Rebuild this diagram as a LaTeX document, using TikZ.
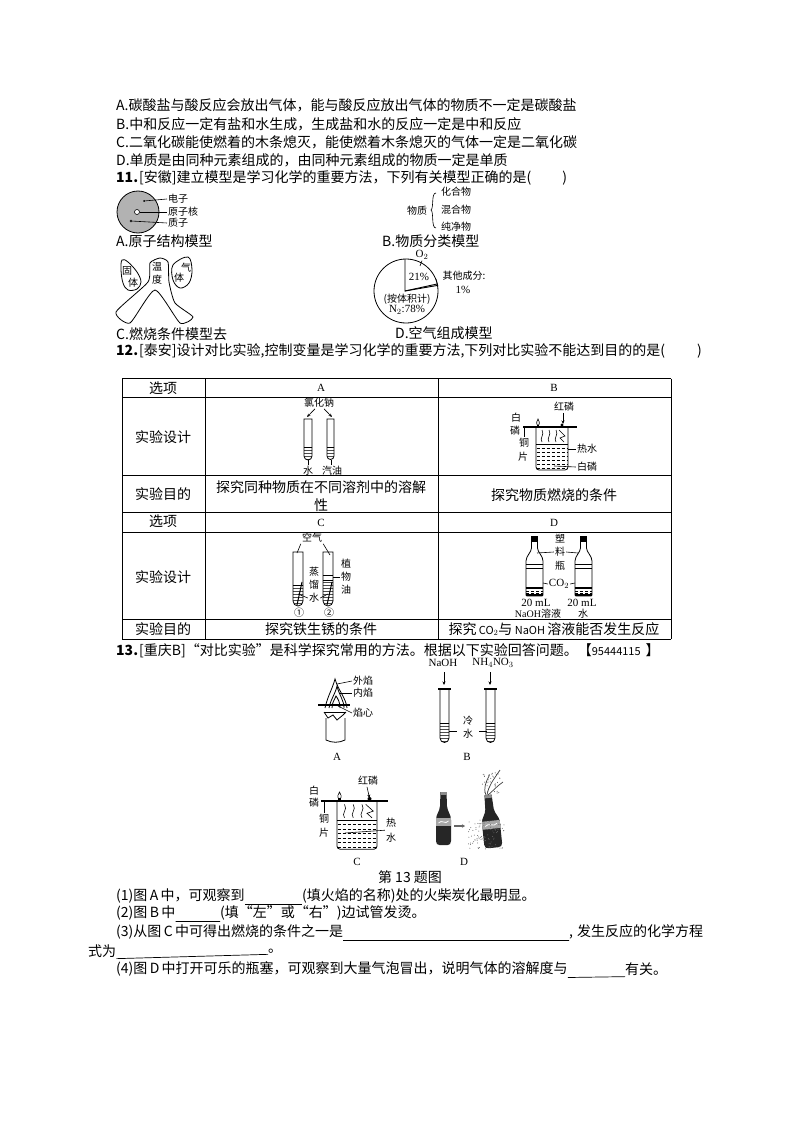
\documentclass[tikz,border=0pt]{standalone}
\usepackage{fontspec}
\setmainfont{Noto Sans CJK SC}
\newfontfamily\figserif{Liberation Serif}
\usetikzlibrary{arrows.meta, patterns}

\tikzset{
  bodytext/.style={anchor=west,inner sep=0pt,font=\fontsize{14}{16}\selectfont},
  celltext/.style={inner sep=0pt,align=center,font=\fontsize{14}{18}\selectfont},
  figlabel/.style={inner sep=1pt,font=\fontsize{10}{11}\selectfont},
  serlabel/.style={inner sep=1pt,font=\figserif\fontsize{11}{12}\selectfont},
  leader/.style={line width=.6pt},
  outline/.style={line width=.8pt},
  blank/.style={line width=.7pt},
  tiparrow/.style={line width=.6pt,-{Stealth[length=3.5pt,width=3pt]}},
}
\newcommand{\smalllatin}{\fontsize{11}{12}\selectfont}

% Test tube: left, right, top, bottom, water level
\newcommand{\testtube}[5]{
  \fill[pattern=horizontal lines,pattern color=black!70] (#1,#5) -- (#1,#4-4) arc[start angle=180,end angle=0,radius={(#2-#1)/2}] -- (#2,#5) -- cycle;
  \draw[outline] (#1,#3) -- (#1,#4-4) arc[start angle=180,end angle=0,radius={(#2-#1)/2}] -- (#2,#3) -- cycle;
  \draw[leader] (#1,#5) -- (#2,#5);
}
% Beaker with plate on top, local origin at top left of beaker
\newcommand{\beakerset}{
  \draw[outline,rounded corners=3pt] (0,0) -- (0,43) -- (32,43) -- (32,0);
  \draw[line width=1.2pt] (-13,0) -- (41,0);
  \foreach \y in {21,25,...,41} \draw[leader,densely dashed] (.5,\y) -- (31.5,\y);
  \draw[leader] (0,17) -- (32,17);
  \foreach \x in {6,13,20} \draw[leader] (\x,15) .. controls (\x-3,11) and (\x+3,8) .. (\x,3);
  \draw[leader] (23,3) -- (29,9) -- (24,11) -- (28,15);
  \fill (26,-2) circle (1.6);
  \draw[leader,fill=white] (2,-1) .. controls (-.5,-4) and (1,-6) .. (2,-8) .. controls (3,-6) and (4.5,-4) .. (2,-1);
  \fill (.7,-2.5) rectangle (3.3,0);
}
% Plastic bottle, local origin at middle of the cap top
\newcommand{\plasticbottle}{
  \fill (-3.5,0) rectangle (3.5,6);
  \draw[outline] (-3,6) -- (-3,12) .. controls (-3,16) and (-8.5,20) .. (-8.5,25) -- (-8.5,51) (3,6) -- (3,12) .. controls (3,16) and (8.5,20) .. (8.5,25) -- (8.5,51);
  \draw[outline,rounded corners=1pt] (-8.5,51) -- (-8.5,60) -- (8.5,60) -- (8.5,51);
  \draw[leader] (-8.5,28) -- (8.5,28) (-8.5,32) -- (8.5,32);
  \draw[line width=1.1pt] (-8.5,52) -- (8.5,52);
  \foreach \y in {55,57.5} \draw[line width=.8pt,densely dashed] (-8.5,\y) -- (8.5,\y);
  \fill (-8.5,58) rectangle (8.5,60);
}
% Cola bottle, local origin at middle of the neck top
\newcommand{\colabottle}{
  \fill[black!85] (-3,0) -- (3,0) -- (3.5,14) .. controls (4,20) and (7.5,22) .. (7.5,28) -- (7.5,49) .. controls (7.5,52) and (6,53) .. (4,53) -- (-4,53) .. controls (-6,53) and (-7.5,52) .. (-7.5,49) -- (-7.5,28) .. controls (-7.5,22) and (-4,20) .. (-3.5,14) -- cycle;
  \fill[black!45] (-3,0) rectangle (3,3);
  \fill[black!35] (-7.5,26) rectangle (7.5,34);
  \draw[white,line width=.8pt] (-5,31) .. controls (-2,27) and (2,33) .. (5,29);
}

\begin{document}
\begin{tikzpicture}[x=1pt,y=-1pt]
\useasboundingbox (0,0) rectangle (794,1123);
% Options of the question before 11
\node[bodytext] (optA) at (116,105) {A.碳酸盐与酸反应会放出气体，能与酸反应放出气体的物质不一定是碳酸盐};
\node[bodytext] (optB) at (116,124) {B.中和反应一定有盐和水生成，生成盐和水的反应一定是中和反应};
\node[bodytext] (optC) at (116,142) {C.二氧化碳能使燃着的木条熄灭，能使燃着木条熄灭的气体一定是二氧化碳};
\node[bodytext] (optD) at (116,160) {D.单质是由同种元素组成的，由同种元素组成的物质一定是单质};
\node[bodytext] (qEleven) at (116,178) {\textbf{11.}\hspace{1pt}[安徽]建立模型是学习化学的重要方法，下列有关模型正确的是(\hspace{31pt})};
% Model A, atom
\draw[fill=black!30,line width=.8pt] (138,212) circle (21);
\node[figlabel,anchor=west] (lblElectron) at (167,199) {电子};
\node[figlabel,anchor=west] (lblNucleus) at (167,212) {原子核};
\node[figlabel,anchor=west] (lblProton) at (167,223) {质子};
\draw[leader] (lblElectron.west) -- (144,201) coordinate (electron);
\draw[leader] (lblNucleus.west) -- (140,212) coordinate (nucleus);
\draw[leader] (lblProton.west) -- (131,221) coordinate (proton);
\fill (electron) circle (1);
\draw[fill=white,leader] (137,212) circle (2.5);
\draw[fill=white,leader] (proton) circle (1);
\node[bodytext] (capA) at (116,241) {A.原子结构模型};
% Model B, classes of matter
\node[figlabel] (lblMatter) at (417,211) {物质};
\node[figlabel] (lblCompound) at (456,192) {化合物};
\node[figlabel] (lblMixture) at (456,210) {混合物};
\node[figlabel] (lblPure) at (456,227) {纯净物};
\draw[leader] (436,193) .. controls (431,193) and (434,208) .. (431,210) .. controls (434,212) and (431,228) .. (436,228);
\node[bodytext] (capB) at (382,241) {B.物质分类模型};
% Model C, conditions of burning
\draw[outline] plot[smooth cycle,tension=.35] coordinates {(150,263) (160,258) (168,262) (169,282) (175,303) (193,317) (180,323) (155,290) (130,323) (116,312) (148,282)};
\draw[outline] plot[smooth cycle,tension=.6] coordinates {(122,260) (128,262) (137,272) (141,282) (137,289) (128,290) (123,283) (121,270)};
\draw[outline] plot[smooth cycle,tension=.6] coordinates {(173,265) (188,257) (192,270) (189,283) (180,288) (173,280)};
\node[figlabel] (lblSolidA) at (127,271) {固};
\node[figlabel] (lblSolidB) at (133,283) {体};
\node[figlabel] (lblTempA) at (157,267) {温};
\node[figlabel] (lblTempB) at (157,280) {度};
\node[figlabel] (lblGasA) at (186,268) {气};
\node[figlabel] (lblGasB) at (179,278) {体};
\node[bodytext] (capC) at (116,334) {C.燃烧条件模型去};
% Model D, air pie
\draw[outline] (406,291) circle (32);
\draw[line width=.9pt] (405,259) -- (405,291) -- (437,284);
\draw[line width=.9pt] (405,291) -- (437,285.5);
\node[serlabel] (lblOxygen) at (422,255) {O$_2$};
\draw[leader] (lblOxygen.south) -- (420,266) coordinate (oxygen);
\node[serlabel] (lblTwentyOne) at (419,277) {21\%};
\node[figlabel] (lblOther) at (464,276) {其他成分:};
\node[serlabel] (lblOne) at (463,290) {1\%};
\draw[leader] (436,279) -- (438,286) coordinate (other);
\node[figlabel] (lblVolume) at (407,299) {(按体积计)};
\node[serlabel] (lblNitrogen) at (407,310) {N$_2$:78\%};
\node[bodytext] (capD) at (395,333) {D.空气组成模型};
\node[bodytext] (qTwelve) at (116,351) {\textbf{12.}\hspace{1pt}[泰安]设计对比实验,控制变量是学习化学的重要方法,下列对比实验不能达到目的的是(\hspace{32pt})};
% Table grid
\foreach \y in {378.5,397.5,475.5,512.5,532.5,619.5,639} \draw[outline] (122,\y) -- (671,\y);
\foreach \x in {122,205.5,438,671} \draw[outline] (\x,378.5) -- (\x,639);
% Table texts
\node[celltext] (cellOptA) at (163,388) {选项};
\node[serlabel] (cellA) at (321,388) {A};
\node[serlabel] (cellB) at (554,388) {B};
\node[celltext] (cellDesignA) at (163,437) {实验设计};
\node[celltext] (cellAimA) at (163,494) {实验目的};
\node[celltext] (cellAimAB) at (321,496) {探究同种物质在不同溶剂中的溶解\\性};
\node[celltext] (cellAimBB) at (554,495) {探究物质燃烧的条件};
\node[celltext] (cellOptB) at (163,521) {选项};
\node[serlabel] (cellC) at (321,523) {C};
\node[serlabel] (cellD) at (554,523) {D};
\node[celltext] (cellDesignB) at (163,577) {实验设计};
\node[celltext] (cellAimB) at (163,629) {实验目的};
\node[celltext] (cellAimC) at (321,629) {探究铁生锈的条件};
\node[celltext] (cellAimD) at (554,629) {探究\,{\smalllatin CO$_2$}与\,{\smalllatin NaOH}\,溶液能否发生反应};
% Cell A, two tubes
\node[figlabel] (lblSalt) at (319,403) {氯化钠};
\draw[tiparrow] (lblSalt.south) ++(-4,0) -- (307,417);
\draw[tiparrow] (lblSalt.south) ++(5,0) -- (332,417);
\testtube{304}{312}{419}{460}{447}
\testtube{327}{334}{419}{460}{447}
\node[figlabel] (lblWaterA) at (308,471) {水};
\node[figlabel] (lblPetrol) at (332,471) {汽油};
\draw[leader] (lblWaterA.north) -- (308,460) coordinate (waterA);
\draw[leader] (331,465) -- (331,460) coordinate (petrol);
% Cell B, beaker
\begin{scope}[shift={(536,427)}]
\beakerset
\end{scope}
\node[figlabel] (lblRedB) at (564,407) {红磷};
\draw[tiparrow] (lblRedB.south) ++(-1,0) -- (563,424);
\node[figlabel] (lblWhiteBA) at (516,418) {白};
\node[figlabel] (lblWhiteBB) at (515,431) {磷};
\node[figlabel] (lblCopperBA) at (524,443) {铜};
\node[figlabel] (lblCopperBB) at (523,457) {片};
\draw[leader] (lblCopperBA.north) -- (524,427) coordinate (plateB);
\node[figlabel] (lblHotB) at (587,449) {热水};
\node[figlabel] (lblPhosB) at (587,467) {白磷};
\draw[leader] (lblHotB.west) -- (568,449) coordinate (hotB);
\draw[leader] (lblPhosB.west) -- (554,466) coordinate (phosB);
% Cell C, rust tubes
\node[figlabel] (lblAir) at (312,538) {空气};
\draw[leader] (lblAir.south west) -- (297,553) coordinate (airA);
\draw[leader] (lblAir.south east) -- (330,555) coordinate (airB);
\testtube{293}{303}{552}{605}{585}
\testtube{323}{333}{552}{605}{580}
\draw[leader] (323,575) -- (333,575);
\draw[line width=1pt] (302,582) -- (297,605);
\draw[line width=1pt] (332,582) -- (327,605);
\node[figlabel] (lblDistA) at (314,572) {蒸};
\node[figlabel] (lblDistB) at (314,585) {馏};
\node[figlabel] (lblDistC) at (314,598) {水};
\draw[leader] (lblDistC.west) -- (298,594) coordinate (distA);
\draw[leader] (lblDistC.east) -- (328,594) coordinate (distB);
\node[figlabel] (lblOilA) at (346,564) {植};
\node[figlabel] (lblOilB) at (346,577) {物};
\node[figlabel] (lblOilC) at (346,590) {油};
\draw[leader] (lblOilB.west) -- (333,577) coordinate (oil);
\node[figlabel] (lblOneC) at (299,613) {①};
\node[figlabel] (lblTwoC) at (329,613) {②};
% Cell D, plastic bottles
\begin{scope}[shift={(534.5,536)}]
\plasticbottle
\end{scope}
\begin{scope}[shift={(583.5,536)}]
\plasticbottle
\end{scope}
\node[figlabel] (lblBottleA) at (560,539) {塑};
\node[figlabel] (lblBottleB) at (560,552) {料};
\node[figlabel] (lblBottleC) at (560,566) {瓶};
\draw[leader] (lblBottleB.west) -- (537,553) coordinate (bottleA);
\draw[leader] (lblBottleB.east) -- (578,553) coordinate (bottleB);
\node[serlabel] (lblCarbon) at (559,584) {CO$_2$};
\draw[leader] (lblCarbon.west) -- (543,583) coordinate (carbonA);
\draw[leader] (lblCarbon.east) -- (575,583) coordinate (carbonB);
\node[serlabel] (lblTwentyA) at (536,603) {20 mL};
\node[serlabel] (lblTwentyB) at (582,603) {20 mL};
\node[figlabel] (lblNaoh) at (538,614) {{\figserif NaOH}溶液};
\node[figlabel] (lblWaterD) at (583,614) {水};
% Question 13
\node[bodytext] (qThirteen) at (116,651) {\textbf{13.}\hspace{1pt}[重庆B]“对比实验”是科学探究常用的方法。根据以下实验回答问题。【{\smalllatin 95444115}\hspace{5pt}】};
% Figure A, candle
\draw[outline] (326,718) -- (326,740) .. controls (332,743) and (339,743) .. (345,740) -- (345,718);
\draw[outline] (324,712) -- (328,718) -- (333,715) -- (337,720) -- (343,715) -- (346,712);
\draw[leader] (324,712) -- (346,712);
\draw[outline] (325,708) .. controls (328,695) and (332,690) .. (335,679) .. controls (338,690) and (346,698) .. (347,708);
\draw[outline] (329,708) .. controls (331,698) and (335,695) .. (337,686) .. controls (339,695) and (344,700) .. (344,708);
\draw[outline] (332,708) .. controls (332,702) and (335,699) .. (336,696) .. controls (338,699) and (340,702) .. (340,708);
\draw[line width=1.5pt] (318,705) -- (350,705);
\node[figlabel,anchor=west] (lblOuter) at (352,681) {外焰};
\node[figlabel,anchor=west] (lblInner) at (352,693) {内焰};
\node[figlabel,anchor=west] (lblCore) at (352,713) {焰心};
\draw[leader] (lblOuter.west) -- (337,684) coordinate (outer);
\draw[leader] (lblInner.west) -- (340,693) coordinate (inner);
\draw[leader] (lblCore.west) -- (338,706) coordinate (core);
\node[serlabel] (figA) at (337,757) {A};
% Figure B, cold water tubes
\node[serlabel] (lblNaohB) at (443,663) {NaOH};
\node[serlabel] (lblNitrate) at (493,663) {NH$_4$NO$_3$};
\draw[tiparrow] (444,672) coordinate (pourA) -- (444,685);
\draw[tiparrow] (490,672) coordinate (pourB) -- (490,685);
\testtube{440}{449}{689}{742}{723}
\testtube{486}{495}{689}{742}{723}
\draw[line width=1.2pt] (438,689) -- (451,689) (484,689) -- (497,689);
\node[figlabel] (lblColdA) at (468,721) {冷};
\node[figlabel] (lblColdB) at (468,734) {水};
\draw[leader] (lblColdB.west) ++(-5,-3) coordinate (coldA) -- (449,731);
\draw[leader] (lblColdB.east) ++(5,-3) coordinate (coldB) -- (487,731);
\node[serlabel] (figB) at (467,757) {B};
% Figure C, beaker
\begin{scope}[shift={(337,801)},xscale=1.25,yscale=1.12]
\beakerset
\end{scope}
\node[figlabel] (lblRedC) at (368,781) {红磷};
\draw[tiparrow] (lblRedC.south) ++(-1,0) -- (369.5,798);
\node[figlabel] (lblWhiteCA) at (314,791) {白};
\node[figlabel] (lblWhiteCB) at (314,803) {磷};
\node[figlabel] (lblCopperCA) at (324,819) {铜};
\node[figlabel] (lblCopperCB) at (324,833) {片};
\draw[leader] (lblCopperCA.north) -- (324,801) coordinate (plateC);
\node[figlabel] (lblHotCA) at (391,823) {热};
\node[figlabel] (lblHotCB) at (391,838) {水};
\draw[leader] (lblHotCB.north west) ++(0,-2) -- (345,833) coordinate (hotC);
\node[serlabel] (figC) at (357,862) {C};
% Figure D, cola bottles
\begin{scope}[shift={(443.5,792)}]
\colabottle
\end{scope}
\begin{scope}[shift={(488,795)},rotate=6,xscale=1.2]
\colabottle
\end{scope}
\draw[black!60,line width=1.1pt,-{Stealth[length=3pt,width=3.5pt]}] (454,826) coordinate (colaFrom) -- (465,826) coordinate (colaTo);
\draw[black!75,line width=.7pt] (487,795) .. controls (489,785) and (492,782) .. (500,770);
\draw[black!75,line width=.7pt] (486,795) .. controls (483,788) and (486,782) .. (489,776);
\draw[black!75,line width=.7pt] (488,795) .. controls (494,790) and (497,786) .. (503,782);
\pgfmathsetseed{13}
\foreach \i in {1,...,90} \fill[black!60] ({468+rnd*36},{820+rnd*29}) circle (.5);
\foreach \i in {1,...,35} \fill[black!70] ({480+rnd*20},{772+rnd*22}) circle (.5);
\node[serlabel] (figD) at (464,862) {D};
\node[celltext] (figTitle) at (410,877) {第 13 题图};
% Fill-in lines
\node[bodytext] (subOneA) at (116,896) {(1)图\,A\,中，可观察到};
\node[bodytext] (subOneB) at (302,896) {(填火焰的名称)处的火柴炭化最明显。};
\draw[blank] ([yshift=-1pt]subOneA.south east) -- ([yshift=-1pt]subOneB.south west);
\node[bodytext] (subTwoA) at (116,913) {(2)图\,B\,中};
\node[bodytext] (subTwoB) at (220,913) {(填“左”或“右”)边试管发烫。};
\draw[blank] ([yshift=-1pt]subTwoA.south east) -- ([yshift=-1pt]subTwoB.south west);
\node[bodytext] (subThreeA) at (116,932) {(3)从图\,C\,中可得出燃烧的条件之一是};
\node[bodytext] (subThreeB) at (569,932) {,\hspace{4pt}发生反应的化学方程};
\draw[blank] ([yshift=-1pt]subThreeA.south east) -- ([yshift=-1pt]subThreeB.south west);
\node[bodytext] (subThreeC) at (88,951) {式为};
\node[bodytext] (subThreeD) at (268,951) {。};
\draw[blank] ([yshift=-1pt]subThreeC.south east) -- ([yshift=-1pt]subThreeD.south west);
\node[bodytext] (subFourA) at (116,969) {(4)图\,D\,中打开可乐的瓶塞，可观察到大量气泡冒出，说明气体的溶解度与};
\node[bodytext] (subFourB) at (625,969) {有关。};
\draw[blank] ([yshift=-1pt]subFourA.south east) -- ([yshift=-1pt]subFourB.south west);
\end{tikzpicture}
\end{document}
